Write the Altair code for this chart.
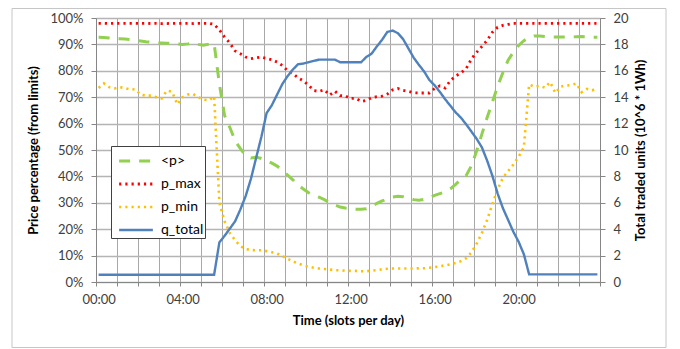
import altair as alt
import pandas as pd

# 96 slots of 15 minutes
series_names = ["<p>", "p_max", "p_min", "q_total"]
series_colors = ["#92D050", "#FF0000", "#FFC000", "#4F81BD"]
tick_labels = ["00:00", "04:00", "08:00", "12:00", "16:00", "20:00"]

p_avg = [92.7, 92.6, 92.4, 92.2, 92.1, 92.0, 91.8, 91.5, 91.3, 91.0, 90.8, 90.6,
         90.5, 90.4, 90.4, 90.2, 90.0, 90.2, 90.5, 90.0, 89.7, 90.1, 90.3, 75.0,
         63.0, 58.5, 53.5, 50.5, 48.0, 47.0, 47.3, 46.8, 46.0, 45.0, 43.9, 42.3,
         40.5, 38.7, 36.8, 35.2, 33.8, 32.8, 32.1, 31.2, 30.0, 29.2, 28.4, 28.0,
         27.8, 27.6, 27.6, 27.7, 28.5, 29.8, 30.7, 31.5, 32.2, 32.5, 32.3, 31.8,
         31.2, 31.0, 31.3, 32.0, 32.8, 33.5, 34.1, 35.3, 37.0, 38.8, 40.3, 44.0,
         49.6, 56.0, 62.3, 68.1, 74.2, 79.3, 84.0, 87.1, 89.6, 91.4, 92.6, 93.2,
         93.2, 93.0, 92.9, 92.8, 92.8, 92.8, 92.8, 92.9, 93.0, 92.9, 92.7, 92.7]

p_max = [98.0, 98.0, 97.9, 98.0, 98.0, 98.0, 98.0, 98.0, 98.0, 98.0, 97.9, 98.0,
         97.9, 97.9, 98.0, 98.0, 98.0, 98.0, 97.9, 98.0, 98.0, 98.0, 97.6, 95.5,
         92.8, 90.5, 87.5, 86.5, 85.2, 84.6, 84.9, 85.2, 84.7, 84.2, 83.3, 82.0,
         80.0, 79.0, 77.3, 76.2, 74.5, 72.5, 72.2, 72.8, 70.8, 72.3, 70.6, 70.5,
         69.5, 69.6, 68.4, 68.8, 69.8, 70.2, 70.4, 71.2, 72.8, 73.3, 72.6, 72.2,
         71.7, 71.6, 71.6, 71.6, 73.3, 74.3, 73.5, 76.3, 78.0, 79.2, 80.8, 84.5,
         87.0, 89.2, 91.5, 94.6, 96.5, 97.2, 97.6, 98.0, 98.0, 98.0, 98.0, 98.0,
         98.0, 98.0, 98.0, 98.0, 98.0, 98.0, 98.0, 98.0, 98.0, 98.0, 98.0, 98.0]

p_min = [73.5, 75.2, 73.8, 73.3, 73.8, 73.5, 72.9, 73.0, 71.0, 70.6, 70.6, 70.0,
         69.5, 72.5, 72.0, 67.3, 70.0, 71.0, 71.2, 70.0, 69.1, 68.8, 70.3, 30.0,
         23.0, 18.5, 15.8, 13.6, 12.5, 12.1, 12.0, 12.0, 11.7, 11.3, 10.8, 9.8,
         8.8, 7.8, 7.0, 6.3, 5.8, 5.4, 5.1, 4.9, 4.7, 4.5, 4.4, 4.3,
         4.2, 4.2, 4.1, 4.1, 4.3, 4.5, 4.8, 5.0, 5.1, 5.1, 5.1, 5.1,
         5.1, 5.2, 5.2, 5.4, 5.6, 6.0, 6.3, 6.7, 7.2, 7.9, 9.0, 11.2,
         14.5, 18.5, 23.5, 29.5, 35.0, 39.5, 42.0, 44.5, 47.5, 51.0, 74.8, 74.0,
         74.3, 73.6, 75.7, 71.6, 74.0, 74.4, 74.6, 75.2, 71.9, 73.1, 72.6, 73.6]

q_total = [0.55, 0.55, 0.55, 0.55, 0.55, 0.55, 0.55, 0.55, 0.55, 0.55, 0.55, 0.55,
           0.55, 0.55, 0.55, 0.55, 0.55, 0.55, 0.55, 0.55, 0.55, 0.55, 0.55, 3.0,
           3.5, 4.05, 4.6, 5.5, 6.5, 7.8, 9.4, 11.0, 12.8, 13.4, 14.2, 15.0,
           15.6, 16.1, 16.5, 16.55, 16.65, 16.75, 16.85, 16.85, 16.85, 16.85, 16.65, 16.65,
           16.65, 16.65, 16.65, 17.05, 17.3, 17.85, 18.35, 18.95, 19.05, 18.85, 18.4, 17.7,
           17.0, 16.45, 15.95, 15.3, 14.9, 14.4, 13.85, 13.35, 12.85, 12.45, 11.95, 11.4,
           10.85, 10.2, 9.2, 8.05, 6.7, 5.6, 4.7, 3.8, 3.05, 2.1, 0.58, 0.58,
           0.58, 0.58, 0.58, 0.58, 0.58, 0.58, 0.58, 0.58, 0.58, 0.58, 0.58, 0.58]

left_rows = []
for name, vals in (("<p>", p_avg), ("p_max", p_max), ("p_min", p_min)):
    for i, v in enumerate(vals):
        left_rows.append({"slot": i + 0.5, "series": name, "value": v / 100.0, "order": i})
left_df = pd.DataFrame(left_rows)
right_df = pd.DataFrame({"slot": [i + 0.5 for i in range(len(q_total))],
                         "series": "q_total", "value": q_total,
                         "order": list(range(len(q_total)))})

FONT = "Lato"
AXIS_GREY = "#868686"
LABEL_COL = "#404040"

lbl_array = "[" + ",".join("'%s'" % t for t in tick_labels) + "]"
x_enc = alt.X("slot:Q",
              scale=alt.Scale(domain=[0, 96], nice=False, zero=False),
              axis=alt.Axis(values=list(range(0, 97, 4)),
                            labelExpr="(datum.value % 16 == 0 && datum.value < 96) ? "
                                      + lbl_array + "[datum.value / 16] : ''",
                            title="Time (slots per day)",
                            grid=True, gridColor="#a8a8a8", gridWidth=1,
                            domainColor=AXIS_GREY, tickColor=AXIS_GREY, tickSize=4,
                            labelOffset=2.6, labelPadding=7, labelFlush=False,
                            labelOverlap=False, labelFont=FONT, labelFontSize=13,
                            labelColor=LABEL_COL, titleFont=FONT, titleFontSize=13,
                            titleFontWeight="bold", titleColor="#000000", titlePadding=8))

legend = alt.Legend(title=None, orient="none", legendX=15, legendY=128,
                    symbolType="M-0.55,0H2.15", symbolSize=625, labelOffset=21,
                    padding=1, rowPadding=2, strokeColor="#404040", fillColor="white",
                    labelFont=FONT, labelFontSize=14, labelColor="#000000")

color_enc = alt.Color("series:N", scale=alt.Scale(domain=series_names, range=series_colors),
                      legend=legend)
dash_enc = alt.StrokeDash("series:N",
                          scale=alt.Scale(domain=series_names,
                                          range=[[11, 9], [2.2, 4], [2.2, 4], [1, 0]]),
                          legend=legend)
width_enc = alt.StrokeWidth("series:N",
                            scale=alt.Scale(domain=series_names, range=[3, 2.4, 2.4, 3]),
                            legend=legend)

left = alt.Chart(left_df).mark_line().encode(
    x=x_enc,
    y=alt.Y("value:Q",
            scale=alt.Scale(domain=[0, 1], nice=False),
            axis=alt.Axis(values=[i / 10 for i in range(11)], format=".0%",
                          title="Price percentage (from limits)",
                          grid=True, gridColor="#b4b4b4", gridWidth=1.3,
                          domainColor=AXIS_GREY, tickColor=AXIS_GREY, tickSize=5,
                          labelPadding=8, labelFont=FONT, labelFontSize=13,
                          labelColor=LABEL_COL, titleFont=FONT, titleFontSize=13,
                          titleFontWeight="bold", titleColor="#000000", titlePadding=9)),
    color=color_enc, strokeDash=dash_enc, strokeWidth=width_enc,
    order="order:Q",
)

right = alt.Chart(right_df).mark_line().encode(
    x=x_enc,
    y=alt.Y("value:Q",
            scale=alt.Scale(domain=[0, 20], nice=False),
            axis=alt.Axis(orient="right", values=list(range(0, 21, 2)),
                          title="Total traded units (10^6 * 1Wh)", titleAngle=270,
                          titleBaseline="top",
                          grid=False, domainColor=AXIS_GREY, tickColor=AXIS_GREY,
                          tickSize=5, labelPadding=8, labelFont=FONT, labelFontSize=13,
                          labelColor=LABEL_COL, titleFont=FONT, titleFontSize=13,
                          titleFontWeight="bold", titleColor="#000000", titlePadding=6)),
    color=color_enc, strokeDash=dash_enc, strokeWidth=width_enc,
    order="order:Q",
)

border = alt.Chart(alt.Data(values=[{}])).mark_rect(
    filled=False, stroke="#c6c6c6", strokeWidth=1
).encode(x=alt.value(-84), x2=alt.value(570), y=alt.value(-9.5), y2=alt.value(329.5))

chart = alt.layer(left, right, border).resolve_scale(y="independent").properties(
    width=504, height=264,
    padding={"left": 88, "top": 10, "right": 72, "bottom": 66},
    autosize=alt.AutoSizeParams(type="none"),
).configure_view(stroke=None).configure(background="white")

chart.save("out.html", embed_options={"renderer": "svg", "actions": False})
